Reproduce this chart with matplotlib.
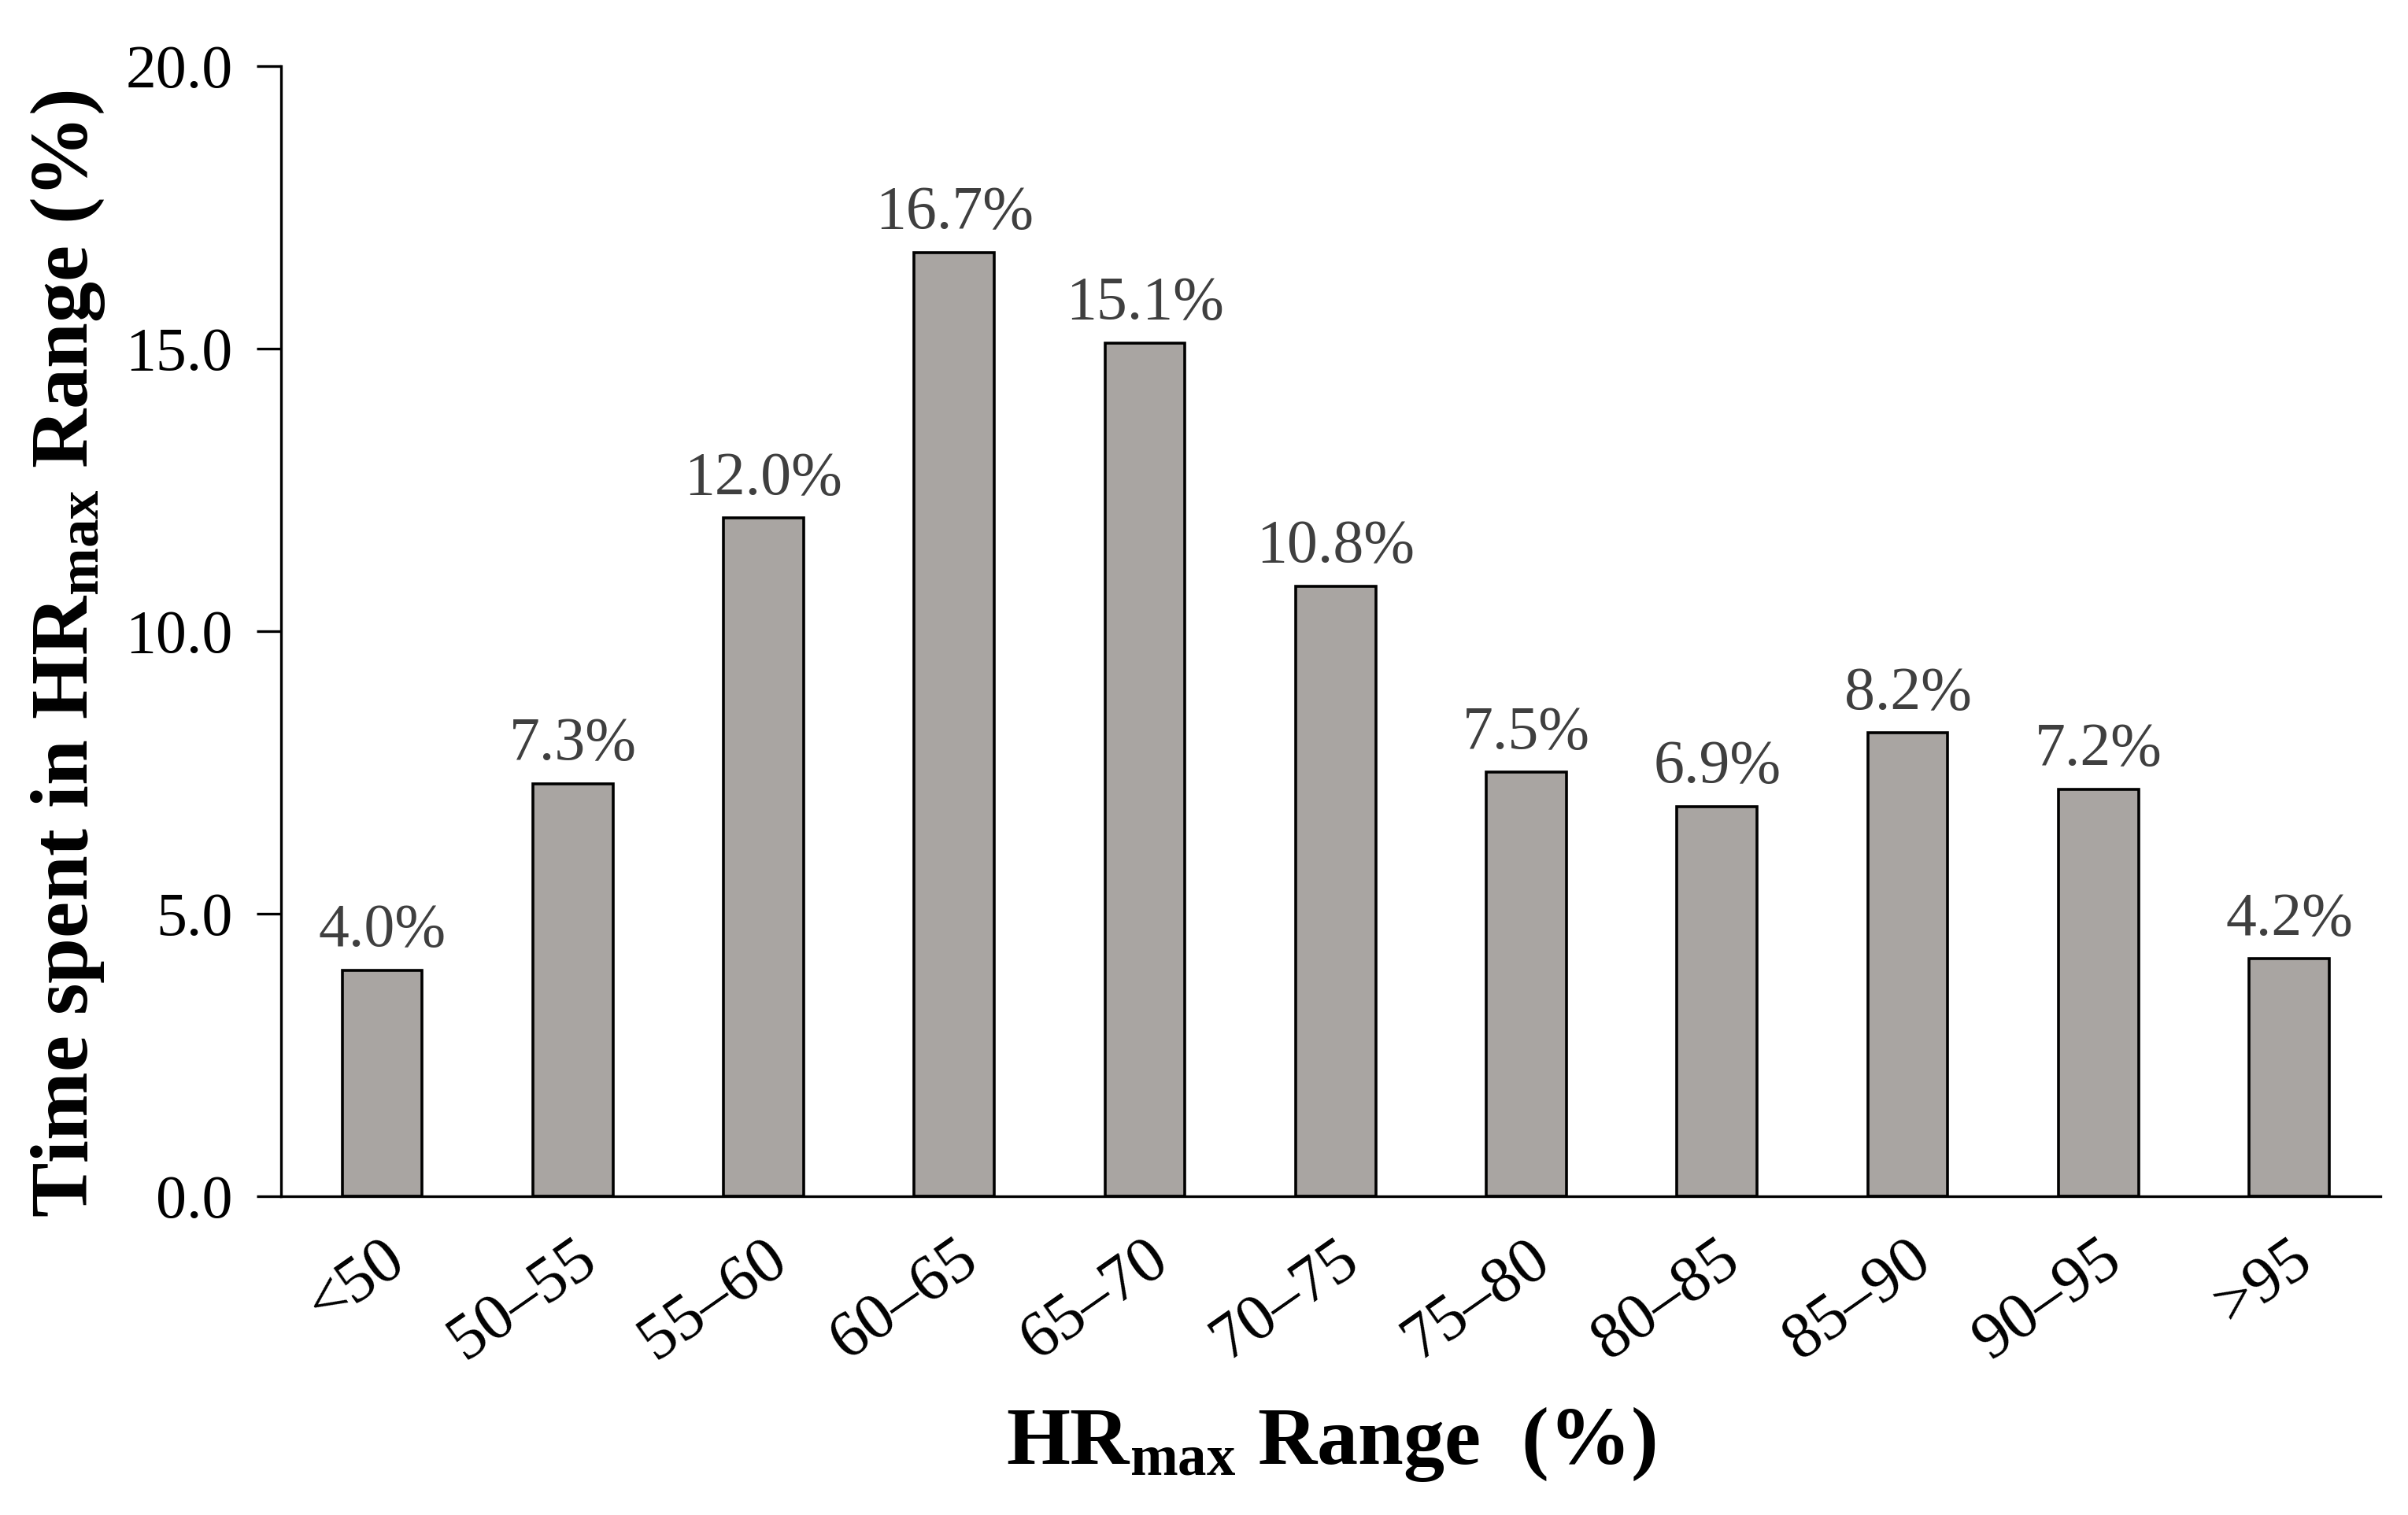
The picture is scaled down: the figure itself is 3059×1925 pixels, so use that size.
import matplotlib
matplotlib.use("Agg")
import matplotlib.pyplot as plt
import numpy as np

# HRmax ranges and time share per range
ranges = ["<50", "50–55", "55–60", "60–65", "65–70", "70–75",
          "75–80", "80–85", "85–90", "90–95", ">95"]
time_pct = [4.0, 7.3, 12.0, 16.7, 15.1, 10.8, 7.5, 6.9, 8.2, 7.2, 4.2]
yticks = [0.0, 5.0, 10.0, 15.0, 20.0]

plt.rcParams["font.family"] = ["Liberation Serif", "DejaVu Serif"]
plt.rcParams["mathtext.fontset"] = "custom"
plt.rcParams["mathtext.rm"] = "Liberation Serif"
plt.rcParams["mathtext.bf"] = "Liberation Serif:bold"

fig = plt.figure(figsize=(30.59, 19.25), dpi=100)
ax = fig.add_axes([0.1167, 0.2104, 0.872, 0.746])

x = np.arange(len(ranges))
bars = ax.bar(x, time_pct, width=0.42, color="#a9a5a2",
              edgecolor="black", linewidth=2.6)

# labels above the bars
for b, v in zip(bars, time_pct):
    ax.annotate(f"{v:.1f}%", (b.get_x() + b.get_width() / 2, v),
                xytext=(0, 22), textcoords="offset points",
                ha="center", va="baseline", fontsize=56, color="#3f3f3f")

ax.set_xlim(-0.53, 10.48)
ax.set_ylim(0, 20)
ax.set_yticks(yticks)
ax.set_yticklabels([f"{t:.1f}" for t in yticks], fontsize=56)
ax.set_xticks(x)
ax.set_xticklabels(ranges, fontsize=60, rotation=35, ha="right",
                   va="top", rotation_mode="anchor")
ax.tick_params(axis="x", length=0, pad=30)
ax.tick_params(axis="y", length=22, width=2.4, pad=22)

for s in ["top", "right"]:
    ax.spines[s].set_visible(False)
for s in ["left", "bottom"]:
    ax.spines[s].set_linewidth(2.4)

ax.set_ylabel(r"Time spent in $\mathbf{HR_{max}}$ Range (%)",
              fontsize=75, fontweight="bold")
ax.yaxis.set_label_coords(-0.083, 0.48)
ax.set_xlabel(r"$\mathbf{HR_{max}}$ Range  (%)",
              fontsize=75, fontweight="bold", labelpad=30)

fig.savefig("out.png", dpi=100)
